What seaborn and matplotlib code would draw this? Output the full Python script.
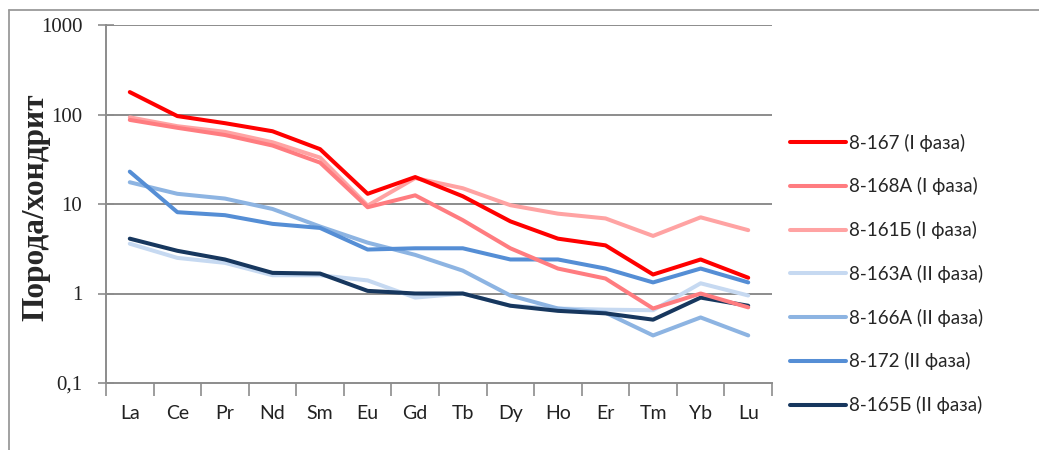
import matplotlib
matplotlib.use("Agg")
import matplotlib.pyplot as plt
import matplotlib.ticker as mticker
import pandas as pd
import seaborn as sns
from matplotlib.lines import Line2D

# ======================================================
# Data (chondrite-normalised REE)
# ======================================================

elements = ["La", "Ce", "Pr", "Nd", "Sm", "Eu", "Gd", "Tb",
            "Dy", "Ho", "Er", "Tm", "Yb", "Lu"]

s_8_167 = [178, 96, 80, 65, 41, 13, 20, 12.2, 6.4, 4.1, 3.45, 1.63, 2.4, 1.5]
s_8_168a = [87, 71, 59, 45, 29, 9.2, 12.5, 6.6, 3.2, 1.9, 1.47, 0.68, 1.0, 0.70]
s_8_161b = [93, 74, 64, 49, 33, 9.6, 19.5, 15, 9.7, 7.8, 6.9, 4.4, 7.1, 5.1]
s_8_163a = [3.6, 2.5, 2.2, 1.6, 1.6, 1.4, 0.9, 1.0, 0.73, 0.68, 0.66, 0.65, 1.3, 0.95]
s_8_166a = [17.5, 13, 11.5, 8.8, 5.6, 3.7, 2.7, 1.8, 0.95, 0.68, 0.61, 0.34, 0.54, 0.34]
s_8_172 = [23, 8.1, 7.5, 6.0, 5.4, 3.1, 3.2, 3.2, 2.4, 2.4, 1.9, 1.33, 1.9, 1.33]
s_8_165b = [4.1, 3.0, 2.4, 1.7, 1.67, 1.07, 1.0, 1.0, 0.73, 0.64, 0.60, 0.51, 0.9, 0.73]

labels = ["8-167 (I фаза)", "8-168А (I фаза)", "8-161Б (I фаза)",
          "8-163А (II фаза)", "8-166А (II фаза)", "8-172 (II фаза)",
          "8-165Б (II фаза)"]
colors = ["#FF0000", "#FF7C80", "#FFA3A3", "#C6D9F1", "#8DB4E2",
          "#558ED5", "#17375E"]
series = [s_8_167, s_8_168a, s_8_161b, s_8_163a, s_8_166a, s_8_172, s_8_165b]

rows = []
for lab, vals in zip(labels, series):
    for i, (el, v) in enumerate(zip(elements, vals)):
        rows.append({"sample": lab, "pos": i, "element": el, "value": v})
df = pd.DataFrame(rows)

# ======================================================
# Plot
# ======================================================

sns.set_style("white")
plt.rcParams["font.family"] = ["Lato", "DejaVu Sans"]

fig = plt.figure(figsize=(10.39, 4.5), dpi=100)
ax = fig.add_axes([106 / 1039, 1 - 383 / 450, (772 - 106) / 1039, (383 - 25) / 450])

# draw order: blues first, reds on top
draw_order = [3, 4, 5, 6, 2, 1, 0]
pal = dict(zip(labels, colors))
for k in draw_order:
    lab = labels[k]
    sns.lineplot(data=df[df["sample"] == lab], x="pos", y="value",
                 color=pal[lab], linewidth=2.9, ax=ax, legend=False,
                 solid_capstyle="round", solid_joinstyle="round")

ax.set_yscale("log")
ax.set_ylim(0.1, 1000)
ax.set_xlim(-0.5, len(elements) - 0.5)

grid_c = "#8C8C8C"
for v in [1, 10, 100, 1000]:
    ax.axhline(v, color=grid_c, linewidth=1.4, zorder=0)

ax.yaxis.set_major_locator(mticker.FixedLocator([0.1, 1, 10, 100, 1000]))
ax.yaxis.set_minor_locator(mticker.NullLocator())
ax.set_yticklabels(["0,1", "1", "10", "100", "1000"],
                   family="Liberation Serif", fontsize=15, color="#222222")
ax.tick_params(axis="y", which="major", direction="inout", length=12,
               width=1.2, color=grid_c, pad=11, left=True)

ax.set_xticks(range(len(elements)))
ax.set_xticklabels(elements, fontsize=14, color="#222222")
ax.xaxis.set_minor_locator(mticker.FixedLocator(
    [i - 0.5 for i in range(len(elements) + 1)]))
ax.tick_params(axis="x", which="major", length=0, pad=16)
ax.tick_params(axis="x", which="minor", direction="out", length=9,
               width=1.2, color=grid_c, bottom=True)

for side in ["top", "right"]:
    ax.spines[side].set_visible(False)
for side in ["left", "bottom"]:
    ax.spines[side].set_color(grid_c)
    ax.spines[side].set_linewidth(1.4)

ax.set_xlabel("")
ax.set_ylabel("Порода/хондрит", family="Liberation Serif", fontweight="bold",
              fontsize=22.5)
ax.yaxis.set_label_coords(-0.083, 0.49)

handles = [Line2D([0], [0], color=c, linewidth=2.9, solid_capstyle="round")
           for c in colors]
fig.legend(handles, labels, loc="upper left",
           bbox_to_anchor=(782 / 1039, 1 - 126 / 450), frameon=False,
           fontsize=13.5, handlelength=3.0, handletextpad=0.15,
           labelspacing=1.37, borderaxespad=0)

# outer chart border (top and left edges visible)
fig.add_artist(Line2D([9 / 1039, 9 / 1039], [0, 1 - 10 / 450],
                      transform=fig.transFigure, color="#9A9A9A", linewidth=1.3))
fig.add_artist(Line2D([9 / 1039, 1], [1 - 10 / 450, 1 - 10 / 450],
                      transform=fig.transFigure, color="#9A9A9A", linewidth=1.3))

fig.savefig("out.png", dpi=100)
